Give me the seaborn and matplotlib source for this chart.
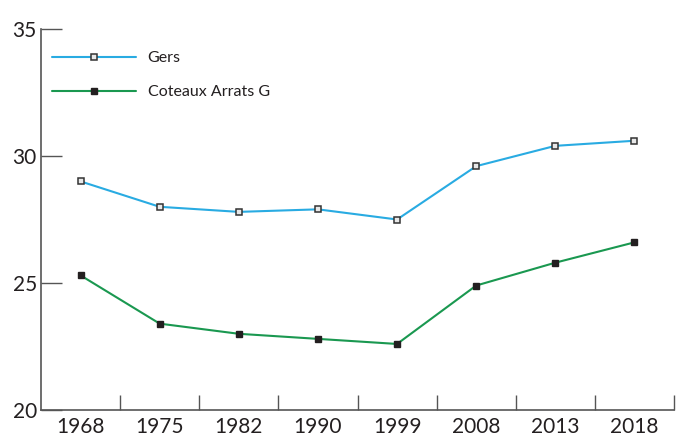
import numpy as np
import pandas as pd
import matplotlib.pyplot as plt
import seaborn as sns

years = ["1968", "1975", "1982", "1990", "1999", "2008", "2013", "2018"]
gers = [29.0, 28.0, 27.8, 27.9, 27.5, 29.6, 30.4, 30.6]
coteaux = [25.3, 23.4, 23.0, 22.8, 22.6, 24.9, 25.8, 26.6]
series_names = ["Gers", "Coteaux Arrats G"]

sns.set_style("white")
plt.rcParams['font.family'] = ['Lato', 'DejaVu Sans']

df = pd.DataFrame({"year": years * 2,
                   "value": gers + coteaux,
                   "serie": [series_names[0]] * len(years) + [series_names[1]] * len(years)})

fig = plt.figure(figsize=(6.79, 4.37), dpi=100)
ax = fig.add_axes([41/679, 1 - 410/437, (674 - 41)/679, (410 - 29)/437])

sns.lineplot(data=df[df.serie == series_names[0]], x="year", y="value", sort=False,
             color="#29abe2", lw=1.5, marker="s", ms=4.5, mfc="#e8e8e8", mec="#333333",
             mew=1.1, ax=ax, label=series_names[0])
sns.lineplot(data=df[df.serie == series_names[1]], x="year", y="value", sort=False,
             color="#1a9850", lw=1.5, marker="s", ms=4.5, mfc="#231f20", mec="#231f20",
             mew=1.0, ax=ax, label=series_names[1])

ax.set_xlim(-0.5, 7.5)
ax.set_ylim(20, 35)
ax.set_yticks([20, 25, 30, 35])
ax.set_xticks(range(len(years)))
ax.set_xticklabels(years)
ax.set_xticks(np.arange(0.5, 8, 1), minor=True)
ax.tick_params(axis="x", which="major", bottom=False, length=0, labelsize=15,
               colors="#231f20", pad=5)
ax.tick_params(axis="x", which="minor", bottom=True, direction="in", length=11,
               width=1, color="#555555")
ax.tick_params(axis="y", which="major", left=True, direction="in", length=15, width=1,
               color="#555555", labelsize=15, labelcolor="#231f20", pad=3)
ax.set_xlabel("")
ax.set_ylabel("")

for s in ["top", "right"]:
    ax.spines[s].set_visible(False)
for s in ["left", "bottom"]:
    ax.spines[s].set_color("#555555")
    ax.spines[s].set_linewidth(1.2)

leg = ax.legend(loc="upper left", frameon=False, handlelength=5.3, fontsize=11.5,
                bbox_to_anchor=(0.017, 0.942), labelspacing=1.25, handletextpad=0.7,
                borderaxespad=0, borderpad=0)
for t in leg.get_texts():
    t.set_color("#231f20")

fig.savefig("out.png", dpi=100)
